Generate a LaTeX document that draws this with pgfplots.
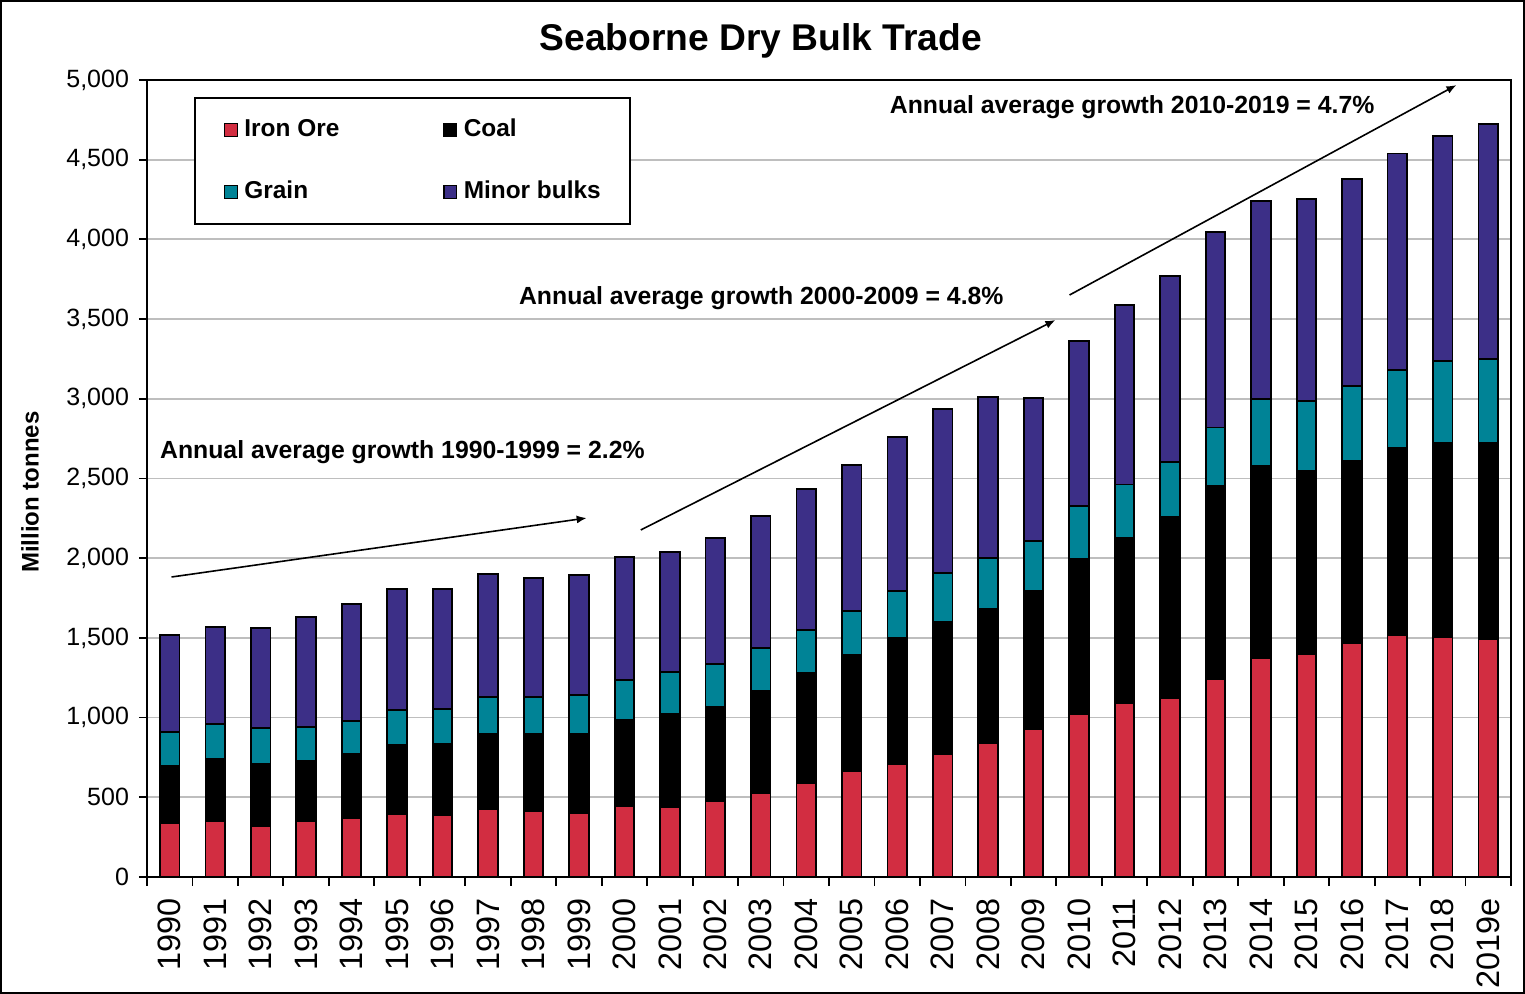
\documentclass[border=0pt]{standalone}
\usepackage{pgfplots}
\pgfplotsset{compat=1.18}
\usepackage{pgfplotstable}
\usepackage{fontspec}
\setmainfont{Liberation Sans}
\usetikzlibrary{arrows.meta}
\definecolor{ironc}{RGB}{210,45,65}
\definecolor{grainc}{RGB}{0,131,150}
\definecolor{minorc}{RGB}{60,47,135}
\definecolor{gridc}{RGB}{190,190,190}

\pgfplotstableread{
x iron coal grain minor
0 339 357 212 610
1 351 389 218 612
2 320 389 224 631
3 351 377 213 692
4 370 402 207 732
5 395 433 220 759
6 389 445 220 753
7 427 470 230 776
8 414 483 230 751
9 401 496 245 754
10 445 540 251 773
11 439 582 263 755
12 477 589 268 795
13 527 640 272 828
14 590 690 271 885
15 665 728 278 913
16 709 792 293 966
17 772 830 307 1027
18 841 840 320 1012
19 928 866 314 899
20 1022 975 329 1035
21 1092 1038 332 1124
22 1124 1136 345 1165
23 1244 1212 364 1225
24 1374 1202 421 1244
25 1399 1146 443 1263
26 1469 1142 469 1297
27 1519 1171 491 1358
28 1507 1215 513 1414
29 1491 1231 528 1475
}\data

\begin{document}
\begin{tikzpicture}
\begin{axis}[
  name=ax, at={(0,0)}, anchor=south west,
  scale only axis, width=682pt, height=398.5pt,
  ybar stacked, bar width=0.43,
  xmin=-0.5, xmax=29.5, ymin=0, ymax=5000,
  xtick={0,...,29},
  xticklabels={1990,1991,1992,1993,1994,1995,1996,1997,1998,1999,2000,2001,2002,2003,2004,2005,2006,2007,2008,2009,2010,2011,2012,2013,2014,2015,2016,2017,2018,2019e},
  major x tick style={draw=none},
  minor xtick={-0.5,0.5,...,29.5},
  x tick label style={rotate=90, anchor=east, font=\fontsize{16.2}{16.2}\selectfont},
  xticklabel shift=3pt,
  ytick={0,500,...,5000},
  scaled y ticks=false,
  y tick label style={font=\fontsize{12.5}{12.5}\selectfont},
  yticklabel shift=1.5pt,
  /pgf/number format/assume math mode=true,
  /pgf/number format/1000 sep={,},
  ymajorgrids, grid style={gridc, line width=0.9pt},
  axis line style={line width=1pt},
  tick align=outside, ytick pos=left, xtick pos=bottom,
  major tick length=4pt, minor tick length=4.5pt,
  tick style={black, line width=0.9pt},
  clip=false,
  ylabel={Million tonnes},
  ylabel style={at={(rel axis cs:-0.0857,0.483)}, anchor=center, font=\bfseries\fontsize{12}{12}\selectfont},
  legend columns=2,
  legend cell align=left,
  legend image code/.code={\draw[#1, draw=black, line width=0.6pt] (0pt,-3.2pt) rectangle (6.4pt,3.2pt);},
  legend style={at={(rel axis cs:0.0345,0.9787)}, anchor=north west, draw=black, line width=1pt,
    font=\bfseries\fontsize{12.2}{12.2}\selectfont,
    inner xsep=14.5pt, inner ysep=10.5pt, row sep=20pt,
    nodes={inner xsep=0pt, inner ysep=0pt, text height=9pt, text depth=2pt},
    /tikz/column 1/.style={column sep=3.2pt},
    /tikz/column 2/.style={column sep=52pt},
    /tikz/column 3/.style={column sep=3.2pt}},
]
\addplot[fill=ironc, draw=black, line width=0.9pt] table[x=x, y=iron]{\data};
\addlegendentry{Iron Ore}
\addplot[fill=black, draw=black, line width=0.9pt] table[x=x, y=coal]{\data};
\addlegendentry{Coal}
\addplot[fill=grainc, draw=black, line width=0.9pt] table[x=x, y=grain]{\data};
\addlegendentry{Grain}
\addplot[fill=minorc, draw=black, line width=0.9pt] table[x=x, y=minor]{\data};
\addlegendentry{Minor bulks}

\node[font=\bfseries\fontsize{18.6}{18.6}\selectfont] at (rel axis cs:0.450,1.0490) {Seaborne Dry Bulk Trade};
\node[anchor=west, inner sep=0pt, font=\bfseries\fontsize{12.4}{12.4}\selectfont] at (axis cs:-0.22,2666) {Annual average growth 1990-1999 = 2.2\%};
\node[anchor=west, inner sep=0pt, font=\bfseries\fontsize{12.4}{12.4}\selectfont] at (axis cs:7.674,3632) {Annual average growth 2000-2009 = 4.8\%};
\node[anchor=west, inner sep=0pt, font=\bfseries\fontsize{12.4}{12.4}\selectfont] at (axis cs:15.83,4830) {Annual average growth 2010-2019 = 4.7\%};
\draw[line width=0.8pt, -{Latex[length=5pt,width=4pt]}] (axis cs:0.04,1882) -- (axis cs:9.17,2252);
\draw[line width=0.8pt, -{Latex[length=5pt,width=4pt]}] (axis cs:10.36,2177) -- (axis cs:19.48,3494);
\draw[line width=0.8pt, -{Latex[length=5pt,width=4pt]}] (axis cs:19.79,3651) -- (axis cs:28.3,4968);
\end{axis}
\draw[line width=1pt] (-73pt,-58pt) rectangle (688.5pt,438pt);
\pgfresetboundingbox
\path[use as bounding box] (-73.5pt,-58.5pt) rectangle (689pt,438.5pt);
\end{tikzpicture}
\end{document}
